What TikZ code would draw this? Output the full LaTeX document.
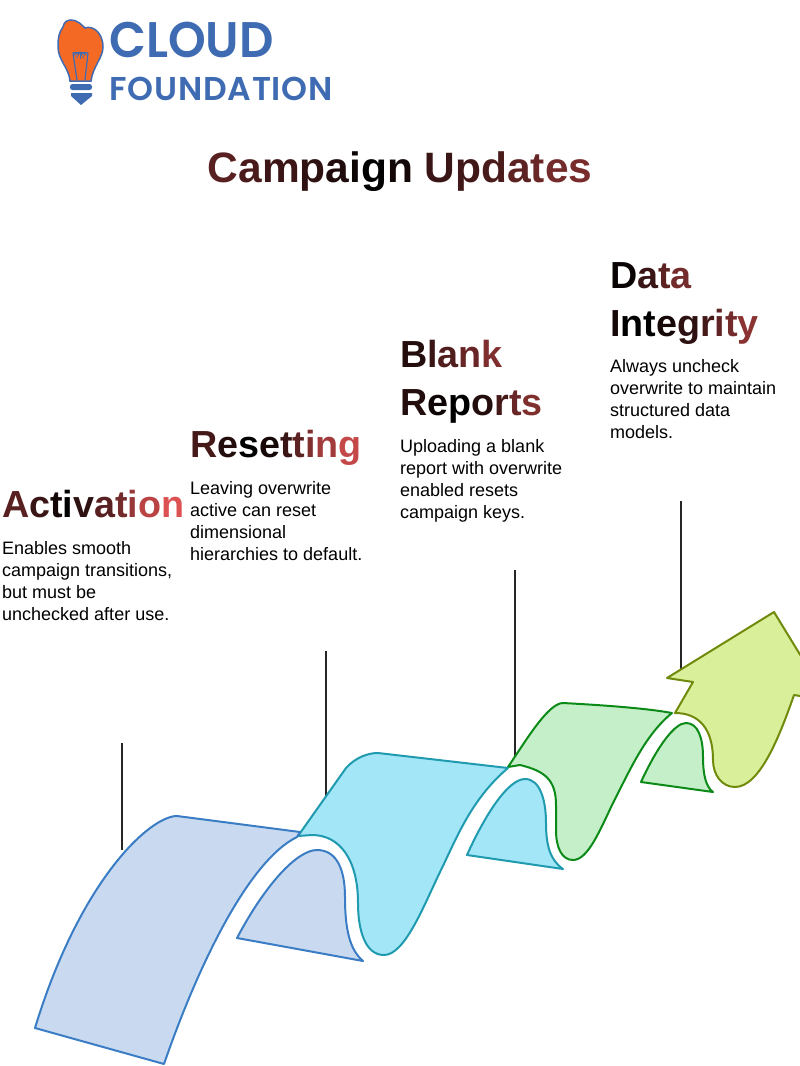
\documentclass[tikz,border=0pt]{standalone}
\usepackage{xcolor}
\usepackage{fontspec}
\usepackage{tikz}
\usetikzlibrary{positioning,calc}
\setmainfont{Liberation Sans}
\newfontfamily\logofont[FakeStretch=0.96]{Poppins SemiBold}
\newfontfamily\logosmall[LetterSpace=2.5]{Poppins SemiBold}
\definecolor{rampred}{HTML}{E85555}
\definecolor{logoblue}{HTML}{3F6BB3}
\definecolor{logoorange}{HTML}{F46A24}
\definecolor{bluefill}{HTML}{C9DAF0}
\definecolor{blueline}{HTML}{3B7DC4}
\definecolor{cyanfill}{HTML}{A2E6F8}
\definecolor{cyanline}{HTML}{1F9AAE}
\definecolor{greenfill}{HTML}{C5EFC8}
\definecolor{greenline}{HTML}{0B8A17}
\definecolor{olivefill}{HTML}{DAEF9A}
\definecolor{oliveline}{HTML}{708A0C}
% letter by letter colour ramp: letter/amount of red
\newcommand{\gradword}[1]{\foreach \ch/\lev in {#1}{\textcolor{rampred!\lev!black}{\ch}}}
\begin{document}
\begin{tikzpicture}[
	x=1pt, y=-1pt,
	heading/.style={
		font=\bfseries\fontsize{37.7}{48}\selectfont,
		anchor=north west, inner sep=0pt, align=left
	},
	bodytext/.style={
		font=\fontsize{18}{22}\selectfont,
		anchor=north west, inner sep=0pt, align=left
	},
	leader/.style={
		draw=black!85, line width=2pt
	},
	ribbon/.style={
		line width=2pt, line join=round
	}
	]
	\clip (0,0) rectangle (800,1066);
	% --- logo ---
	\fill[logoorange, draw=logoblue, line width=1.5pt] (70,81) .. controls (69,68) and (58,60) .. (58,47)
		.. controls (58,38) and (59,32) .. (63,27) .. controls (64,22) and (67,20) .. (71,20)
		.. controls (77,20) and (81,24) .. (85,28) .. controls (92,25) and (103,32) .. (103,47)
		.. controls (103,58) and (93,66) .. (91,81) -- cycle;
	\draw[logoblue, line width=1.2pt] (73,53) -- (77,80) (88,53) -- (85,80) (73,53) -- (88,53);
	\foreach \ang in {0,30,...,180} {
		\draw[logoblue, line width=0.8pt] (80,52) -- +({\ang}:7);
	}
	\fill[logoblue, rounded corners=2.5pt] (70,84) rectangle (92,90);
	\fill[logoblue] (71,93) -- (92,93) -- (92,96) -- (81,105) -- (71,96) -- cycle;
	\node[anchor=west, inner sep=0pt, text=logoblue, font=\logofont\fontsize{50}{50}\selectfont] (logo-top) at (109,40) {CLOUD};
	\node[anchor=west, inner sep=0pt, text=logoblue, font=\logosmall\fontsize{33}{33}\selectfont] (logo-bottom) at (109,89) {FOUNDATION};
	% --- title ---
	\node[heading, anchor=center, font=\bfseries\fontsize{42.5}{50}\selectfont] (title) at (400,172)
		{\gradword{C/38,a/32,m/26,p/20,a/14,i/6,g/0,n/8}\hspace{0.27em}\gradword{U/25,p/28,d/32,a/40,t/45,e/50,s/52}};
	% --- headings and texts ---
	\node[heading] (head-a) at (2,490) {\gradword{A/38,c/25,t/10,i/0,v/20,a/38,t/50,i/65,o/80,n/95}};
	\node[bodytext] (body-a) at (2,541) {Enables smooth\\campaign transitions,\\but must be\\unchecked after use.};
	\node[heading] (head-r) at (190,430) {\gradword{R/30,e/15,s/0,e/10,t/25,t/40,i/55,n/70,g/85}};
	\node[bodytext] (body-r) at (190,481) {Leaving overwrite\\active can reset\\dimensional\\hierarchies to default.};
	\node[heading] (head-b) at (400,340) {\gradword{B/15,l/25,a/35,n/45,k/55}\\\gradword{R/15,e/6,p/0,o/15,r/30,t/45,s/55}};
	\node[bodytext] (body-b) at (400,439) {Uploading a blank\\report with overwrite\\enabled resets\\campaign keys.};
	\node[heading] (head-d) at (610,262) {\gradword{D/5,a/25,t/40,a/50}\\\gradword{I/10,n/0,t/0,e/10,g/20,r/30,i/42,t/50,y/60}};
	\node[bodytext] (body-d) at (610,359) {Always uncheck\\overwrite to maintain\\structured data\\models.};
	% --- leaders ---
	\foreach \xx/\ytop/\yfoot [count=\i] in {122/743/850, 326/651/796, 515/570/757, 681/501/672} {
		\coordinate (lead-\i-top) at (\xx,\ytop);
		\coordinate (lead-\i-foot) at (\xx,\yfoot);
		\draw[leader] (lead-\i-top) -- (lead-\i-foot);
	}
	% --- arrow head ---
	\filldraw[ribbon, fill=olivefill, draw=oliveline] (675,713) -- (693,682) -- (667,678) -- (774,612) -- (818,684) -- (800,696) -- (794,695)
		.. controls (780,735) and (760,787) .. (735,787) .. controls (722,787) and (713,775) .. (713,760)
		.. controls (713,730) and (700,713) .. (675,713) -- cycle;
	% --- green ---
	\filldraw[ribbon, fill=greenfill, draw=greenline] (508,767) .. controls (525,742) and (548,703) .. (563,703)
		.. controls (600,705) and (645,708) .. (672,713)
		.. controls (645,735) and (630,770) .. (613,803) .. controls (600,830) and (588,860) .. (573,860)
		.. controls (562,860) and (556,848) .. (556,830) -- (556,805)
		.. controls (556,780) and (545,771) .. (520,765) -- cycle;
	\filldraw[ribbon, fill=greenfill, draw=greenline] (641,782) .. controls (658,745) and (675,723) .. (686,723)
		.. controls (698,723) and (703,738) .. (703,757) .. controls (703,775) and (706,787) .. (713,792) -- cycle;
	% --- cyan ---
	\filldraw[ribbon, fill=cyanfill, draw=cyanline] (298,836) -- (346,768) .. controls (355,758) and (367,753) .. (378,753) -- (508,768)
		.. controls (470,800) and (455,842) .. (440,872) .. controls (424,905) and (405,955) .. (384,955)
		.. controls (365,955) and (358,930) .. (358,903) .. controls (358,860) and (340,835) .. (312,835) -- cycle;
	\filldraw[ribbon, fill=cyanfill, draw=cyanline] (467,855) .. controls (485,815) and (508,779) .. (525,779)
		.. controls (540,779) and (546,800) .. (546,823) .. controls (546,845) and (550,860) .. (563,869) -- cycle;
	% --- blue ---
	\filldraw[ribbon, fill=bluefill, draw=blueline] (35,1028) .. controls (80,880) and (150,816) .. (177,816) -- (300,832) -- (297,837)
		.. controls (250,860) and (200,960) .. (164,1064) -- cycle;
	\filldraw[ribbon, fill=bluefill, draw=blueline] (237,938) .. controls (265,885) and (297,850) .. (317,850)
		.. controls (337,850) and (345,870) .. (345,897) .. controls (345,930) and (350,950) .. (363,961) -- cycle;
\end{tikzpicture}
\end{document}
